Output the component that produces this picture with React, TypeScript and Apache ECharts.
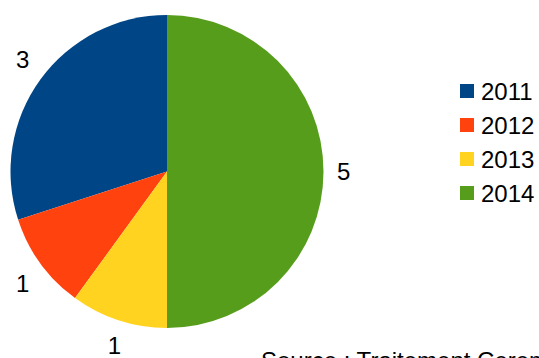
import React, { useEffect, useRef } from "react";
import * as echarts from "echarts";

const categories = ["2011", "2012", "2013", "2014"];
const values = [3, 1, 1, 5];
const colors = ["#004586", "#ff420e", "#ffd320", "#579d1c"];
const sourceText = "Source : Traitement Cerema";

const FONT = "'Liberation Sans', Arial, sans-serif";
const CX = 167;
const CY = 171.5;
const R = 156.5;
const LABEL_R = 170;
const START = 90;

export default function App() {
  const ref = useRef<HTMLDivElement>(null);
  useEffect(() => {
    if (!ref.current) return;
    const chart = echarts.init(ref.current, undefined, { renderer: "svg" });
    const total = values.reduce((a, b) => a + b, 0);
    const midAngles: number[] = [];
    let acc = 0;
    values.forEach((v) => {
      midAngles.push(START + ((acc + v / 2) / total) * 360);
      acc += v;
    });
    const data = categories.map((c, i) => ({
      name: c,
      value: values[i],
      itemStyle: { color: colors[i] },
    }));
    chart.setOption({
      animation: false,
      textStyle: { fontFamily: FONT },
      legend: {
        orient: "vertical",
        left: 455,
        top: 74,
        icon: "rect",
        itemWidth: 14,
        itemHeight: 14,
        itemGap: 10,
        selectedMode: false,
        textStyle: { fontSize: 24, color: "#000", fontFamily: FONT, padding: [0, 0, 0, 2] },
        data: categories,
      },
      series: [
        {
          type: "pie",
          center: [CX, CY],
          radius: [0, R],
          startAngle: START,
          clockwise: false,
          silent: true,
          avoidLabelOverlap: false,
          label: {
            show: true,
            position: "outside",
            formatter: "{c}",
            fontSize: 24,
            color: "#000",
            fontFamily: FONT,
          },
          labelLine: { show: false },
          labelLayout: (p: any) => {
            const a = (midAngles[p.dataIndex] * Math.PI) / 180;
            const cos = Math.cos(a);
            const sin = Math.sin(a);
            return {
              x: CX + LABEL_R * cos,
              y: CY - LABEL_R * sin,
              align: cos > 0.35 ? "left" : cos < -0.35 ? "right" : "center",
              verticalAlign: sin > 0.3 ? "bottom" : sin < -0.3 ? "top" : "middle",
            };
          },
          itemStyle: { borderWidth: 0 },
          data,
        },
      ],
      graphic: [
        {
          type: "text",
          left: 261,
          top: 348,
          style: { text: sourceText, fontSize: 24, fill: "#000", fontFamily: FONT },
        },
      ],
    });
    return () => chart.dispose();
  }, []);
  return (
    <div
      ref={ref}
      style={{ position: "fixed", left: 0, top: 0, width: 539, height: 358, background: "#fff" }}
    />
  );
}
